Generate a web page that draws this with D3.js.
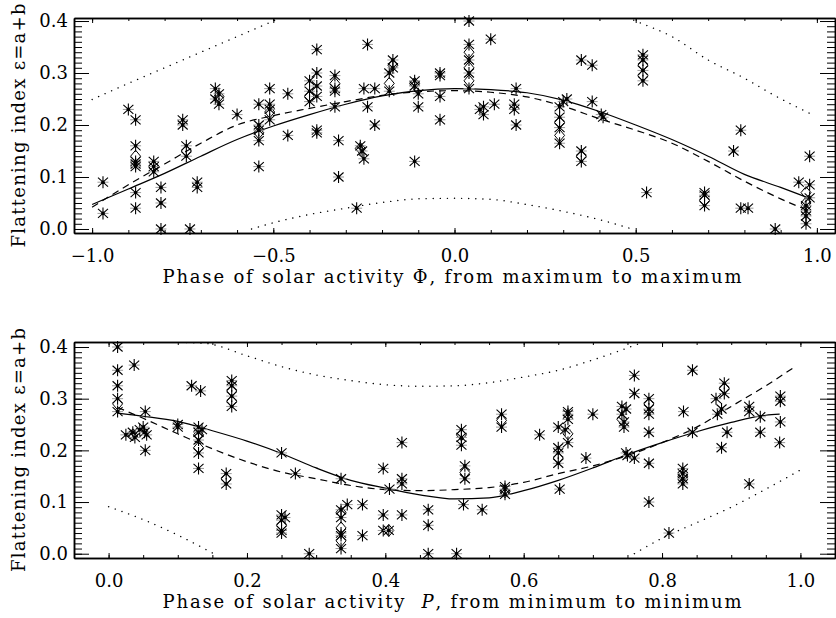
<!DOCTYPE html>
<html>
<head>
<meta charset="utf-8">
<script src="https://cdn.jsdelivr.net/npm/d3@7"></script>
<style>
  body { margin: 0; background: #fff; }
  svg { display: block; background: #fff; }
  text { font-family: "DejaVu Serif", serif; fill: #000; white-space: pre; }
</style>
</head>
<body>
<div id="chart"></div>
<script>
// ---- top panel: phase from maximum to maximum ----
const topStars = [
  [-0.97,0.09],[-0.97,0.03],
  [-0.90,0.23],[-0.88,0.21],[-0.88,0.16],[-0.88,0.13],[-0.88,0.125],[-0.88,0.12],[-0.88,0.07],[-0.88,0.04],
  [-0.83,0.13],[-0.83,0.12],[-0.83,0.11],
  [-0.81,0.08],[-0.81,0.05],[-0.81,0.0],
  [-0.75,0.21],[-0.75,0.20],[-0.74,0.16],[-0.74,0.14],[-0.73,0.0],
  [-0.71,0.09],[-0.71,0.08],
  [-0.66,0.27],[-0.66,0.25],[-0.65,0.26],[-0.65,0.24],
  [-0.60,0.22],
  [-0.54,0.24],[-0.54,0.20],[-0.54,0.19],[-0.54,0.17],[-0.54,0.12],
  [-0.51,0.27],[-0.51,0.24],[-0.51,0.23],[-0.51,0.21],
  [-0.46,0.26],[-0.46,0.18],
  [-0.40,0.285],[-0.40,0.265],[-0.40,0.245],[-0.38,0.345],[-0.38,0.30],[-0.38,0.275],[-0.38,0.255],[-0.38,0.19],[-0.38,0.185],
  [-0.33,0.295],[-0.33,0.27],[-0.33,0.265],[-0.33,0.235],[-0.32,0.17],[-0.32,0.10],
  [-0.27,0.04],[-0.26,0.16],[-0.255,0.15],[-0.25,0.135],[-0.25,0.27],[-0.24,0.355],[-0.24,0.235],
  [-0.22,0.27],[-0.22,0.20],
  [-0.18,0.30],[-0.18,0.265],[-0.17,0.325],[-0.17,0.31],
  [-0.11,0.285],[-0.11,0.275],[-0.10,0.26],[-0.10,0.235],[-0.11,0.13],
  [-0.04,0.30],[-0.04,0.295],[-0.04,0.255],[-0.04,0.21],
  [0.04,0.40],[0.04,0.355],[0.04,0.325],[0.04,0.30],[0.04,0.27],
  [0.10,0.365],
  [0.07,0.23],[0.08,0.22],[0.08,0.235],[0.11,0.24],
  [0.17,0.27],[0.165,0.24],[0.165,0.23],[0.17,0.20],
  [0.29,0.235],[0.29,0.215],[0.29,0.195],[0.29,0.165],[0.31,0.25],[0.30,0.245],
  [0.35,0.325],[0.38,0.315],[0.35,0.15],[0.35,0.13],[0.38,0.245],[0.405,0.22],[0.41,0.215],
  [0.52,0.335],[0.52,0.325],[0.52,0.305],[0.52,0.285],[0.53,0.07],
  [0.69,0.07],[0.69,0.065],[0.69,0.045],
  [0.79,0.19],[0.77,0.15],[0.79,0.04],[0.81,0.04],[0.885,0.0],
  [0.95,0.09],[0.98,0.14],[0.98,0.085],[0.98,0.06],[0.97,0.045],[0.97,0.035],[0.97,0.025],[0.97,0.01]
];
const topDiamonds = [
  [-0.88,0.14],[-0.83,0.12],[-0.74,0.15],[-0.65,0.255],[-0.54,0.185],[-0.51,0.225],[-0.40,0.255],
  [-0.33,0.28],[-0.26,0.155],[-0.18,0.28],[-0.17,0.315],[-0.11,0.28],
  [0.04,0.34],[0.04,0.31],[0.04,0.285],[0.29,0.205],[0.29,0.18],[0.35,0.14],
  [0.52,0.315],[0.52,0.295],[0.69,0.055],[0.97,0.07],[0.97,0.05]
];
const topGrid     = [-1.0,-0.9,-0.8,-0.7,-0.6,-0.5,-0.4,-0.3,-0.2,-0.1,0.0,0.1,0.2,0.3,0.4,0.5,0.6,0.7,0.8,0.9,0.98];
const topSolid    = [0.047,0.077,0.107,0.140,0.172,0.198,0.220,0.240,0.256,0.266,0.270,0.268,0.262,0.248,0.226,0.200,0.172,0.140,0.105,0.080,0.059];
const topDashGrid = [-1.0,-0.9,-0.8,-0.7,-0.6,-0.5,-0.4,-0.3,-0.2,-0.1,0.0,0.1,0.2,0.3,0.4,0.5,0.6,0.7,0.8,0.9,0.97];
const topDashed   = [0.042,0.085,0.125,0.165,0.200,0.218,0.232,0.245,0.257,0.264,0.266,0.263,0.254,0.236,0.212,0.190,0.165,0.130,0.092,0.058,0.037];
const topDotUpX   = [-1.0,-0.9,-0.8,-0.7,-0.6,-0.5,-0.4,0.0,0.4,0.5,0.6,0.7,0.8,0.88,0.99];
const topDotUp    = [0.249,0.280,0.310,0.340,0.370,0.400,0.430,0.470,0.430,0.400,0.370,0.325,0.290,0.258,0.219];
const topDotLowX  = [-0.56,-0.5,-0.4,-0.3,-0.2,-0.1,0.0,0.1,0.2,0.3,0.4,0.49];
const topDotLow   = [0.0,0.012,0.028,0.040,0.051,0.058,0.059,0.057,0.047,0.034,0.018,0.0];

// ---- bottom panel: phase from minimum to minimum ----
const botStars = [
  [0.013,0.40],[0.013,0.355],[0.013,0.325],[0.013,0.30],[0.013,0.275],[0.037,0.365],
  [0.025,0.23],[0.035,0.235],[0.038,0.225],[0.045,0.24],[0.05,0.245],[0.052,0.235],[0.055,0.23],
  [0.053,0.275],[0.053,0.20],
  [0.10,0.25],[0.10,0.245],
  [0.12,0.325],[0.133,0.315],
  [0.13,0.245],[0.13,0.235],[0.13,0.22],[0.13,0.195],[0.13,0.165],[0.135,0.24],
  [0.17,0.155],[0.17,0.135],
  [0.178,0.335],[0.178,0.325],[0.178,0.305],[0.178,0.285],
  [0.25,0.195],[0.27,0.155],
  [0.25,0.075],[0.255,0.07],[0.25,0.065],[0.25,0.045],[0.25,0.04],
  [0.29,0.0],
  [0.336,0.145],[0.336,0.085],[0.336,0.07],[0.336,0.04],[0.336,0.035],[0.336,0.01],[0.345,0.095],
  [0.367,0.095],[0.367,0.035],
  [0.397,0.165],[0.397,0.075],[0.397,0.045],[0.405,0.045],[0.406,0.125],
  [0.424,0.215],[0.424,0.145],[0.424,0.135],[0.424,0.075],
  [0.462,0.085],[0.462,0.055],[0.462,0.0],[0.503,0.0],
  [0.51,0.24],[0.51,0.225],[0.51,0.21],[0.515,0.17],[0.515,0.145],[0.513,0.095],
  [0.54,0.085],
  [0.568,0.27],[0.568,0.245],[0.573,0.13],[0.573,0.125],[0.573,0.115],
  [0.623,0.23],
  [0.65,0.245],[0.65,0.205],[0.65,0.195],[0.65,0.175],[0.652,0.125],
  [0.664,0.275],[0.664,0.27],[0.66,0.24],[0.664,0.26],[0.664,0.215],
  [0.69,0.185],[0.70,0.27],
  [0.742,0.285],[0.742,0.27],[0.745,0.255],[0.745,0.245],[0.748,0.28],[0.748,0.195],[0.75,0.19],
  [0.76,0.345],[0.76,0.31],[0.76,0.185],
  [0.781,0.30],[0.781,0.28],[0.781,0.27],[0.781,0.235],[0.781,0.175],[0.781,0.10],
  [0.81,0.04],
  [0.831,0.275],[0.83,0.165],[0.83,0.155],[0.83,0.145],[0.83,0.135],
  [0.844,0.355],[0.844,0.235],
  [0.878,0.30],[0.88,0.27],[0.886,0.205],[0.89,0.33],[0.89,0.31],[0.886,0.28],[0.894,0.235],
  [0.926,0.285],[0.926,0.275],[0.926,0.135],
  [0.942,0.265],[0.942,0.235],
  [0.971,0.305],[0.971,0.295],[0.971,0.255],[0.97,0.215]
];
const botDiamonds = [
  [0.013,0.29],[0.035,0.23],[0.13,0.205],[0.13,0.23],[0.17,0.145],[0.178,0.315],[0.178,0.295],
  [0.25,0.055],[0.336,0.08],[0.336,0.05],[0.336,0.025],[0.405,0.045],[0.51,0.23],[0.515,0.157],
  [0.568,0.258],[0.573,0.12],[0.65,0.185],[0.664,0.232],[0.742,0.26],[0.781,0.29],[0.83,0.15],[0.89,0.32]
];
const botGrid     = [0.013,0.05,0.10,0.15,0.20,0.25,0.30,0.35,0.40,0.45,0.50,0.55,0.60,0.65,0.70,0.75,0.80,0.85,0.90,0.95,0.97];
const botSolid    = [0.272,0.266,0.256,0.238,0.218,0.194,0.166,0.142,0.127,0.114,0.106,0.108,0.122,0.142,0.166,0.192,0.215,0.236,0.254,0.268,0.270];
const botDashGrid = [0.013,0.05,0.10,0.15,0.20,0.25,0.30,0.35,0.40,0.45,0.50,0.55,0.60,0.65,0.70,0.75,0.80,0.85,0.90,0.95,0.99];
const botDashed   = [0.283,0.262,0.232,0.203,0.178,0.158,0.145,0.132,0.124,0.122,0.124,0.128,0.138,0.155,0.170,0.190,0.215,0.245,0.285,0.325,0.360];
const botDotUpX   = [0.0,0.05,0.10,0.14,0.20,0.25,0.30,0.35,0.40,0.45,0.50,0.55,0.60,0.65,0.70,0.77];
const botDotUp    = [0.409,0.409,0.409,0.407,0.383,0.362,0.346,0.335,0.327,0.324,0.325,0.331,0.342,0.355,0.375,0.408];
const botDotLowAX = [0.0,0.05,0.10,0.152];
const botDotLowA  = [0.091,0.066,0.036,0.0];
const botDotLowBX = [0.76,0.80,0.85,0.90,0.95,1.0];
const botDotLowB  = [0.0,0.03,0.06,0.09,0.125,0.162];

const yMajor = [0, 0.1, 0.2, 0.3, 0.4];
const yMinor = d3.range(0, 0.4001, 0.01);

const width = 836, height = 618;
const svg = d3.select("#chart").append("svg")
    .attr("width", width)
    .attr("height", height);

function zip(xs, ys) { return xs.map((x, i) => [x, ys[i]]); }

function drawPanel(p) {
    const x = d3.scaleLinear().domain(p.xDomain).range([74, 835]);
    const y = d3.scaleLinear().domain(p.yDomain).range(p.yRange);
    const g = svg.append("g");
    const [y0, y1] = p.yRange;

    g.append("clipPath").attr("id", p.id + "clip")
        .append("rect")
        .attr("x", 74).attr("y", y1)
        .attr("width", 835 - 74).attr("height", y0 - y1);

    // curves
    const line = d3.line().x(d => x(d[0])).y(d => y(d[1])).curve(d3.curveMonotoneX);
    const cg = g.append("g").attr("clip-path", `url(#${p.id}clip)`);
    p.curves.forEach(c => {
        cg.append("path")
            .attr("d", line(c.pts))
            .attr("fill", "none")
            .attr("stroke", "#000")
            .attr("stroke-width", c.dash === "dot" ? 1.4 : 1.2)
            .attr("stroke-linecap", c.dash === "dot" ? "round" : "butt")
            .attr("stroke-dasharray", c.dash === "dash" ? "7,5" : c.dash === "dot" ? "0.1,7" : null);
    });

    // diamonds
    cg.append("g").selectAll("path")
        .data(p.diamonds)
        .join("path")
        .attr("d", d => {
            const cx = x(d[0]), cy = y(d[1]);
            return `M${cx},${cy - 6}L${cx + 5},${cy}L${cx},${cy + 6}L${cx - 5},${cy}Z`;
        })
        .attr("fill", "none")
        .attr("stroke", "#000")
        .attr("stroke-width", 1);

    // asterisks
    const star = g.append("g").selectAll("g")
        .data(p.stars)
        .join("g")
        .attr("transform", d => `translate(${x(d[0])},${y(d[1])})`);
    star.append("path")
        .attr("d", "M-5.5,0H5.5")
        .attr("stroke", "#999")
        .attr("stroke-width", 1);
    star.append("path")
        .attr("d", "M0,-6V6M-5,-4.5L5,4.5M-5,4.5L5,-4.5")
        .attr("stroke", "#000")
        .attr("stroke-width", 1.1);
    star.append("circle").attr("r", 1.8).attr("fill", "#000");

    // axes: inward ticks on all four sides
    const fmt = d3.format(".1f");
    const ax = g.append("g").attr("class", "axes");
    ax.append("g").attr("transform", `translate(0,${y0})`)
        .call(d3.axisBottom(x).tickValues(p.xMinor).tickSizeInner(-3).tickSizeOuter(0).tickFormat(""));
    ax.append("g").attr("transform", `translate(0,${y0})`)
        .call(d3.axisBottom(x).tickValues(p.xMajor).tickSizeInner(-5).tickSizeOuter(0).tickPadding(16).tickFormat(fmt));
    ax.append("g").attr("transform", `translate(0,${y1})`)
        .call(d3.axisTop(x).tickValues(p.xMinor).tickSizeInner(-3).tickSizeOuter(0).tickFormat(""));
    ax.append("g").attr("transform", `translate(0,${y1})`)
        .call(d3.axisTop(x).tickValues(p.xMajor).tickSizeInner(-5).tickSizeOuter(0).tickFormat(""));
    ax.append("g").attr("transform", "translate(74,0)")
        .call(d3.axisLeft(y).tickValues(yMinor).tickSizeInner(-8).tickSizeOuter(0).tickFormat(""));
    ax.append("g").attr("transform", "translate(74,0)")
        .call(d3.axisLeft(y).tickValues(yMajor).tickSizeInner(-15).tickSizeOuter(0).tickPadding(6).tickFormat(fmt));
    ax.append("g").attr("transform", "translate(835,0)")
        .call(d3.axisRight(y).tickValues(yMinor).tickSizeInner(-8).tickSizeOuter(0).tickFormat(""));
    ax.append("g").attr("transform", "translate(835,0)")
        .call(d3.axisRight(y).tickValues(yMajor).tickSizeInner(-15).tickSizeOuter(0).tickFormat(""));
    ax.selectAll("path.domain").attr("stroke", "#000").attr("stroke-width", 1.5);
    ax.selectAll(".tick line").attr("stroke", "#000").attr("stroke-width", 1);
    ax.selectAll(".tick text")
        .attr("font-family", "DejaVu Serif, serif")
        .attr("font-size", 18)
        .attr("fill", "#000");

    // titles
    const xt = g.append("text")
        .attr("x", 452)
        .attr("y", y0 + 50)
        .attr("text-anchor", "middle")
        .attr("font-size", 18)
        .attr("textLength", 579)
        .attr("lengthAdjust", "spacing");
    p.xTitle.forEach(s => xt.append("tspan").attr("font-style", s.italic ? "italic" : null).text(s.t));

    g.append("text")
        .attr("transform", `translate(25,${(y0 + y1) / 2}) rotate(-90)`)
        .attr("text-anchor", "middle")
        .attr("font-size", 18)
        .attr("textLength", 244)
        .attr("lengthAdjust", "spacing")
        .text("Flattening index \u03b5=a+b");
}

drawPanel({
    id: "top",
    xDomain: [-1.05, 1.05],
    yDomain: [-0.0077, 0.4058],
    yRange: [233, 18],
    xMajor: [-1, -0.5, 0, 0.5, 1],
    xMinor: d3.range(-1, 1.0001, 0.1),
    stars: topStars,
    diamonds: topDiamonds,
    curves: [
        {pts: zip(topGrid, topSolid), dash: null},
        {pts: zip(topDashGrid, topDashed), dash: "dash"},
        {pts: zip(topDotUpX, topDotUp), dash: "dot"},
        {pts: zip(topDotLowX, topDotLow), dash: "dot"}
    ],
    xTitle: [{t: "Phase of solar activity \u03a6, from maximum to maximum"}]
});

drawPanel({
    id: "bot",
    xDomain: [-0.05, 1.05],
    yDomain: [-0.0083, 0.4097],
    yRange: [558, 342],
    xMajor: [0, 0.2, 0.4, 0.6, 0.8, 1.0],
    xMinor: d3.range(-0.05, 1.0501, 0.05),
    stars: botStars,
    diamonds: botDiamonds,
    curves: [
        {pts: zip(botGrid, botSolid), dash: null},
        {pts: zip(botDashGrid, botDashed), dash: "dash"},
        {pts: zip(botDotUpX, botDotUp), dash: "dot"},
        {pts: zip(botDotLowAX, botDotLowA), dash: "dot"},
        {pts: zip(botDotLowBX, botDotLowB), dash: "dot"}
    ],
    xTitle: [{t: "Phase of solar activity\u00a0\u00a0"}, {t: "P", italic: true}, {t: ", from minimum to minimum"}]
});
</script>
</body>
</html>
